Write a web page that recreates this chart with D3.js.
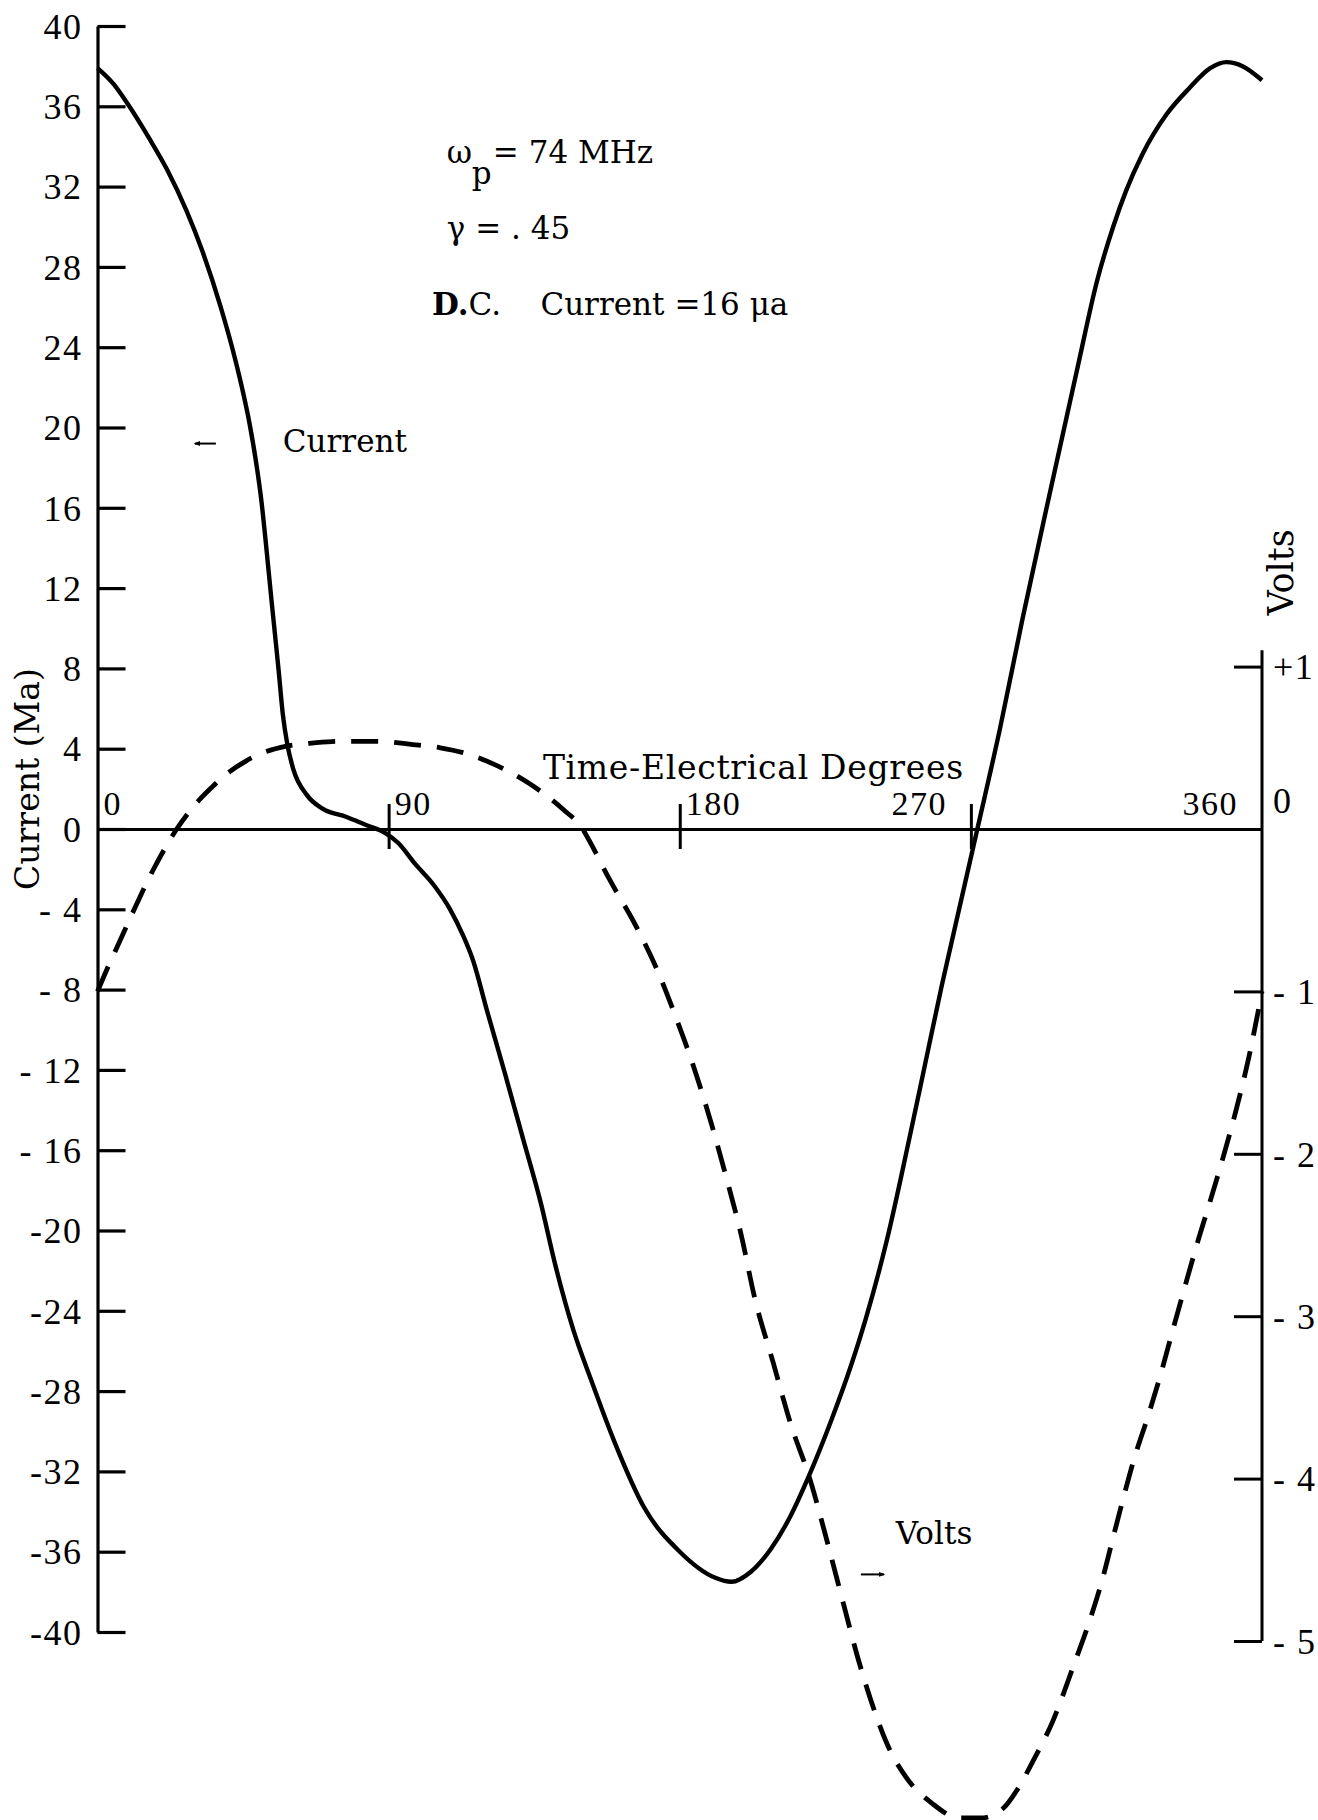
<!DOCTYPE html>
<html>
<head>
<meta charset="utf-8">
<script src="https://cdn.jsdelivr.net/npm/d3@7"></script>
<style>
  body { margin: 0; background: #fff; }
  svg { display: block; background: #fff; }
  text { fill: #000; white-space: pre; }
  .lbl { font-family: "DejaVu Serif", serif; font-size: 32px; }
  .note { font-family: "DejaVu Serif", serif; font-size: 31px; }
  .num { font-family: "Liberation Serif", serif; font-size: 36px; letter-spacing: 1.5px; }
</style>
</head>
<body>
<div id="chart"></div>
<script>
// current (mA) vs electrical degrees
var curDeg = [0, 5, 9, 16, 21.5, 27.5, 32.5, 38, 41.6, 44.5, 47, 49, 50.7, 52.2, 53.6, 54.8, 56, 57.3, 58.7, 60.5,
  64.7, 69.7, 77, 83, 89, 93, 98, 104, 109, 113, 116, 120.5, 126, 131.5, 137, 141.5, 147, 152.5, 160, 169, 180,
  191, 196, 202, 208, 214, 220, 226.5, 233, 237.5, 244, 251, 256, 261, 266.5, 272, 279, 286, 294.5,
  303, 309, 314, 318, 323, 330.5, 337.5, 344, 349, 354, 360];
var curMa = [37.9, 37.1, 36.2, 34.4, 32.85, 30.8, 28.75, 26.05, 24.0, 22.1, 20.2, 18.3, 16.3, 14.0, 11.7, 9.8, 7.9, 5.7, 4.2, 3.0,
  1.7, 1.0, 0.6, 0.2, -0.2, -0.7, -1.7, -2.8, -4.0, -5.3, -6.5, -9.1, -12.2, -15.4, -18.6, -21.7, -24.9, -27.4, -30.6, -33.8, -36.0,
  -37.3, -37.5, -37.0, -35.9, -34.3, -32.2, -29.6, -26.7, -24.4, -20.5, -15.4, -11.6, -7.8, -3.9, 0, 5.0, 10.5, 16.8,
  23.0, 27.3, 30.0, 31.8, 33.6, 35.6, 36.9, 37.9, 38.2, 38.0, 37.3];

// voltage vs electrical degrees
var voltDeg = [0, 3, 6, 11, 17, 24.5, 31.5, 36, 40, 46, 50, 58.5, 67, 75, 86, 97.5, 106, 113, 123.5, 133.5,
  144, 150, 152, 158, 166.8, 173.5, 178.8, 184.4, 190, 194.3, 199, 203.2, 208.8, 214.4, 220.2, 226, 230.6,
  235, 239, 244, 250, 258, 266.5, 273, 280, 284.2, 289.2, 295.4, 301.6, 306.8, 310.8, 314, 317, 320, 325,
  328.5, 332.5, 336, 340, 344, 348, 352, 356, 360];
var voltV = [-1.0, -0.86, -0.73, -0.51, -0.26, 0.0, 0.18, 0.27, 0.34, 0.42, 0.46, 0.51, 0.53, 0.54, 0.54, 0.52, 0.50, 0.47, 0.39, 0.28,
  0.12, 0.0, -0.07, -0.30, -0.61, -0.89, -1.16, -1.47, -1.83, -2.14, -2.5, -2.89, -3.28, -3.67, -4.0, -4.42, -4.77,
  -5.1, -5.36, -5.63, -5.84, -6.0, -6.09, -6.09, -6.03, -5.92, -5.74, -5.49, -5.16, -4.87, -4.61, -4.36, -4.13, -3.91, -3.6,
  -3.37, -3.08, -2.83, -2.55, -2.29, -2.02, -1.73, -1.40, -1.0];

var curTicks = [40, 36, 32, 28, 24, 20, 16, 12, 8, 4, 0, -4, -8, -12, -16, -20, -24, -28, -32, -36, -40];
var curTickLabels = ["40", "36", "32", "28", "24", "20", "16", "12", "8", "4", "0", "- 4", "- 8", "- 12", "- 16",
  "-20", "-24", "-28", "-32", "-36", "-40"];
var voltTicks = [1, 0, -1, -2, -3, -4, -5];
var voltTickLabels = ["+1", "0", "- 1", "- 2", "- 3", "- 4", "- 5"];
var degTicks = [0, 90, 180, 270, 360];
var degTickLabels = ["0", "90", "180", "270", "360"];

var W = 1318, H = 1820;
var svg = d3.select("#chart").append("svg").attr("width", W).attr("height", H);

var x = d3.scaleLinear().domain([0, 360]).range([97.5, 1262]);
var y = d3.scaleLinear().domain([-40, 40]).range([1632, 26]);
var vStep = 162.4;
var yv = d3.scaleLinear().domain([-5, 1]).range([y(0) + 5 * vStep, y(0) - vStep]);

// left axis: ticks point inward
var gL = svg.append("g")
  .attr("transform", "translate(" + x(0) + ",0)")
  .call(d3.axisLeft(y).tickValues(curTicks).tickSizeInner(-28).tickSizeOuter(0).tickPadding(15)
    .tickFormat(function(d, i) { return curTickLabels[i]; }));
gL.select(".domain").attr("stroke-width", 3.2).attr("stroke", "#000");
gL.selectAll(".tick line").attr("stroke-width", 3.2).attr("stroke", "#000");
gL.selectAll(".tick text").attr("class", "num").attr("dy", "0.34em");

// right (volts) axis
var gR = svg.append("g")
  .attr("transform", "translate(" + x(360) + ",0)")
  .call(d3.axisRight(yv).tickValues(voltTicks).tickSizeInner(-28).tickSizeOuter(0).tickPadding(11)
    .tickFormat(function(d, i) { return voltTickLabels[i]; }));
gR.select(".domain").remove();
gR.append("line").attr("x1", 0).attr("x2", 0).attr("y1", yv(1.1)).attr("y2", yv(-5))
  .attr("stroke", "#000").attr("stroke-width", 3);
gR.selectAll(".tick line").attr("stroke-width", 3).attr("stroke", "#000");
gR.selectAll(".tick text").attr("class", "num").attr("dy", "0.34em");
gR.selectAll(".tick").filter(function(d) { return d === 0; }).each(function() {
  d3.select(this).select("line").remove();
  d3.select(this).select("text").attr("y", -29);
});

// time axis along zero current
var gX = svg.append("g")
  .attr("transform", "translate(0," + y(0) + ")")
  .call(d3.axisBottom(x).tickValues([90, 180, 270]).tickSizeInner(20).tickSizeOuter(0).tickFormat(""));
gX.select(".domain").attr("stroke-width", 3).attr("stroke", "#000");
gX.selectAll(".tick line").attr("y1", -25).attr("stroke-width", 3).attr("stroke", "#000");

svg.append("g").selectAll("text")
  .data(degTicks)
  .join("text")
  .attr("class", "num")
  .style("font-size", "34px")
  .attr("x", function(d) { return d < 270 ? x(d) + 6 : x(d) - 24; })
  .attr("y", y(0) - 14)
  .attr("text-anchor", function(d) { return d < 270 ? "start" : "end"; })
  .text(function(d, i) { return degTickLabels[i]; });

// curves
var curLine = d3.line()
  .x(function(d) { return x(d[0]); })
  .y(function(d) { return y(d[1]); })
  .curve(d3.curveMonotoneX);
var voltLine = d3.line()
  .x(function(d) { return x(d[0]); })
  .y(function(d) { return yv(d[1]); })
  .curve(d3.curveMonotoneX);

svg.append("path")
  .datum(d3.zip(voltDeg, voltV))
  .attr("d", voltLine)
  .attr("fill", "none")
  .attr("stroke", "#000")
  .attr("stroke-width", 4.8)
  .attr("stroke-dasharray", "27,16");

svg.append("path")
  .datum(d3.zip(curDeg, curMa))
  .attr("d", curLine)
  .attr("fill", "none")
  .attr("stroke", "#000")
  .attr("stroke-width", 4.4)
  .attr("stroke-linejoin", "round");

// axis titles
svg.append("text").attr("class", "lbl")
  .style("font-size", "33px")
  .attr("transform", "translate(27," + 779 + ") rotate(-90)")
  .attr("text-anchor", "middle").attr("dominant-baseline", "central")
  .text("Current (Ma)");
svg.append("text").attr("class", "lbl")
  .style("font-size", "35px")
  .attr("transform", "translate(" + (x(360) + 19) + "," + yv(1.58) + ") rotate(-90)")
  .attr("text-anchor", "middle").attr("dominant-baseline", "central")
  .text("Volts");
svg.append("text").attr("class", "lbl")
  .style("font-size", "33px").style("letter-spacing", "0.7px")
  .attr("x", x(137.7)).attr("y", y(2.5))
  .text("Time-Electrical Degrees");

// parameter notes
var ax = x(108);
var t1 = svg.append("text").attr("class", "note").attr("y", y(33.2));
t1.append("tspan").attr("x", ax).text("\u03C9");
t1.append("tspan").attr("x", ax + 25).attr("dy", 21).text("p");
t1.append("tspan").attr("x", ax + 46).attr("dy", -21).text("= 74 MHz");

svg.append("text").attr("class", "note")
  .attr("x", ax).attr("y", y(29.4))
  .text("\u03B3 = . 45");

var t3 = svg.append("text").attr("class", "note").attr("x", x(103.4)).attr("y", y(25.6));
t3.append("tspan").attr("font-weight", "bold").text("D.");
t3.append("tspan").text("C.    Current =16 \u03BCa");

// curve labels with pointer arrows
var defs = svg.append("defs");
defs.append("marker").attr("id", "head")
  .attr("viewBox", "0 0 10 10").attr("refX", 8).attr("refY", 5)
  .attr("markerWidth", 3.2).attr("markerHeight", 3.2).attr("orient", "auto-start-reverse")
  .append("path").attr("d", "M0,1L10,5L0,9Z").attr("fill", "#000");

svg.append("text").attr("class", "note")
  .attr("x", x(57.3)).attr("y", y(18.8)).text("Current");
svg.append("line")
  .attr("x1", x(36.6)).attr("x2", x(30.1)).attr("y1", y(19.2)).attr("y2", y(19.2))
  .attr("stroke", "#000").attr("stroke-width", 2).attr("marker-end", "url(#head)");

svg.append("text").attr("class", "note")
  .attr("x", x(246.8)).attr("y", yv(-4.40)).text("Volts");
svg.append("line")
  .attr("x1", x(236)).attr("x2", x(243.1)).attr("y1", yv(-4.59)).attr("y2", yv(-4.59))
  .attr("stroke", "#000").attr("stroke-width", 2).attr("marker-end", "url(#head)");
</script>
</body>
</html>
